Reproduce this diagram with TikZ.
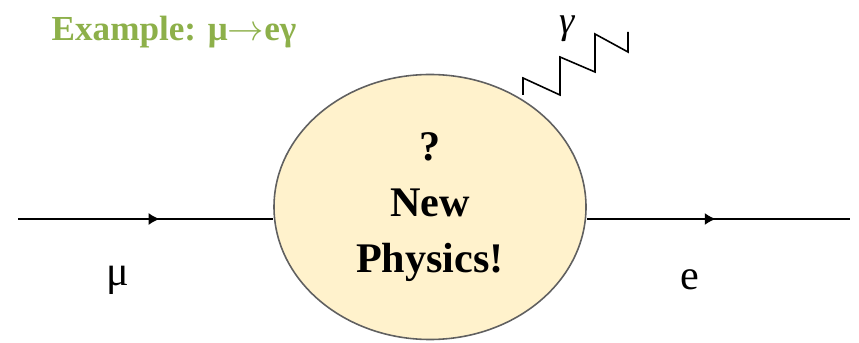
\documentclass[tikz,border=0pt]{standalone}
\usepackage{fontspec}
\setmainfont{Liberation Serif}
\usepackage{tikz}
\usetikzlibrary{positioning,arrows.meta,shapes.geometric,decorations.markings,calc}
\definecolor{titlegreen}{HTML}{8DB04A}
\definecolor{blobfill}{HTML}{FFF2CC}
\definecolor{blobdraw}{HTML}{606060}
\tikzset{
  blob/.style    ={ellipse, draw=blobdraw, fill=blobfill, line width=0.9pt, minimum width=6.24cm, minimum height=5.3cm,
                   font=\fontsize{24}{32}\selectfont\bfseries, align=center, inner sep=0pt},
  fermion/.style ={line width=0.9pt, postaction={decorate},
                   decoration={markings, mark=at position #1 with {\arrow{Latex[length=2.2mm,width=2.4mm]}}}},
  photonln/.style={line width=0.9pt},
  partlbl/.style ={font=\fontsize{24}{28}\selectfont, inner sep=0pt},
}
\begin{document}
\begin{tikzpicture}
\useasboundingbox (0,0) rectangle (17.18,6.84);
% ---- title
\node[font=\fontsize{20}{24}\selectfont\bfseries, text=titlegreen] (title) at (3.48,6.2) {Example: μ$\rightarrow$eγ};

% ---- new physics blob
\node[blob] (np) at (8.6,2.7) {?\\New\\Physics!};

% ---- external legs
\coordinate (muin) at (0.36,2.46);
\coordinate (eout) at (17.0,2.46);
\draw[fermion=0.555] (muin) -- (muin -| np.west);
\draw[fermion=0.49] (eout -| np.east) -- (eout);
\node[partlbl] (mu) at (2.36,1.24) {μ};
\node[partlbl] (el) at (13.8,1.24) {e};

% ---- photon
\coordinate (gs) at (10.46,4.94);
\draw[photonln] (gs) -- ++(0,0.34) -- ++(0.74,-0.34) -- ++(0,0.76) -- ++(0.70,-0.30)
  -- ++(0,0.76) -- ++(0.66,-0.36) -- ++(0,0.40) coordinate (ge);
\node[partlbl, font=\fontsize{22}{26}\selectfont\itshape] (ga) at (11.34,6.27) {γ};
\end{tikzpicture}
\end{document}
